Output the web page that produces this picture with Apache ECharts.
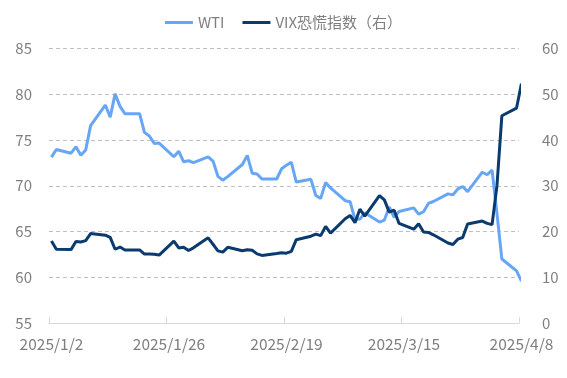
<!DOCTYPE html>
<html>
<head>
<meta charset="UTF-8">
<title>WTI vs VIX</title>
<script src="https://cdn.jsdelivr.net/npm/echarts@6/dist/echarts.min.js"></script>
<style>
html, body { margin:0; padding:0; background:#fff; }
#chart { width:567px; height:378px; }
</style>
</head>
<body>
<div id="chart"></div>
<script type="text/javascript">
	// trading days (holidays carried forward as in the source)
	var dates = [
		'2025-01-02','2025-01-03','2025-01-06','2025-01-07','2025-01-08','2025-01-09','2025-01-10',
		'2025-01-13','2025-01-14','2025-01-15','2025-01-16','2025-01-17','2025-01-20','2025-01-21',
		'2025-01-22','2025-01-23','2025-01-24','2025-01-27','2025-01-28','2025-01-29','2025-01-30',
		'2025-01-31','2025-02-03','2025-02-04','2025-02-05','2025-02-06','2025-02-07','2025-02-10',
		'2025-02-11','2025-02-12','2025-02-13','2025-02-14','2025-02-17','2025-02-18','2025-02-19',
		'2025-02-20','2025-02-21','2025-02-24','2025-02-25','2025-02-26','2025-02-27','2025-02-28',
		'2025-03-03','2025-03-04','2025-03-05','2025-03-06','2025-03-07','2025-03-10','2025-03-11',
		'2025-03-12','2025-03-13','2025-03-14','2025-03-17','2025-03-18','2025-03-19','2025-03-20',
		'2025-03-21','2025-03-24','2025-03-25','2025-03-26','2025-03-27','2025-03-28','2025-03-31',
		'2025-04-01','2025-04-02','2025-04-03','2025-04-04','2025-04-07','2025-04-08'
	];
	var wti = [
		73.13,73.96,73.56,74.25,73.32,73.92,76.57,
		78.82,77.50,80.04,78.68,77.88,77.88,75.83,
		75.44,74.62,74.66,73.17,73.77,72.62,72.73,
		72.53,73.16,72.70,71.03,70.61,71.00,72.32,
		73.32,71.37,71.29,70.74,70.74,71.85,72.25,
		72.57,70.40,70.70,68.93,68.62,70.35,69.76,
		68.37,68.26,66.31,66.36,67.04,66.03,66.25,
		67.68,66.55,67.18,67.58,66.90,67.16,68.07,
		68.28,69.11,69.00,69.65,69.92,69.36,71.48,
		71.20,71.71,66.95,61.99,60.70,59.58
	];
	var vix = [
		17.93,16.13,16.04,17.82,17.70,18.00,19.54,
		19.19,18.71,16.12,16.60,15.97,15.97,15.06,
		15.10,15.02,14.85,17.90,16.41,16.56,15.84,
		16.43,18.62,17.21,15.77,15.50,16.54,15.81,
		16.02,15.89,15.10,14.77,15.20,15.35,15.27,
		15.66,18.21,18.98,19.43,19.10,21.13,19.63,
		22.78,23.51,21.93,24.87,23.37,27.86,26.92,
		24.23,24.66,21.77,20.51,21.70,19.90,19.80,
		19.28,17.48,17.15,18.33,18.69,21.65,22.28,
		21.77,21.51,30.02,45.31,46.98,52.33
	];
	var startDate = '2025-01-02';
	var dayStep = 24;

	var DAY = 24 * 3600 * 1000;
	var t0 = Date.parse(startDate + 'T00:00:00Z');

	// points sit in the middle of their day, ticks on day boundaries
	function toPairs(vals){
		var out = [];
		for(var i=0; i<dates.length; i++){
			var d = (Date.parse(dates[i] + 'T00:00:00Z') - t0) / DAY;
			out.push([d + 0.5, vals[i]]);
		}
		return out;
	}

	function fmtDay(v){
		var dt = new Date(t0 + v * DAY);
		return dt.getUTCFullYear() + '/' + (dt.getUTCMonth() + 1) + '/' + dt.getUTCDate();
	}

	var font = '"Noto Sans CJK SC", "Noto Sans", sans-serif';
	var labelColor = '#7f7f7f';

	var myChart = echarts.init(document.getElementById('chart'), null, {renderer: 'canvas'});

	var option = {
		backgroundColor: '#fff',
		animation: false,
		textStyle: { fontFamily: font },
		legend: {
			top: 10,
			left: 'center',
			itemGap: 18,
			itemWidth: 28,
			itemHeight: 3,
			icon: 'rect',
			textStyle: { color: labelColor, fontSize: 15, fontFamily: font },
			data: ['WTI', 'VIX恐慌指数（右）']
		},
		grid: { left: 49, right: 48, top: 48.5, bottom: 55 },
		xAxis: {
			type: 'value',
			min: 0,
			max: 96,
			interval: dayStep,
			axisLine: { lineStyle: { color: '#d9d9d9' } },
			axisTick: { show: true, inside: true, length: 6, lineStyle: { color: '#d9d9d9' } },
			splitLine: { show: false },
			axisLabel: {
				color: labelColor,
				fontSize: 15.5,
				margin: 13,
				padding: [0, 0, 0, 5],
				formatter: fmtDay
			}
		},
		yAxis: [
			{
				type: 'value',
				min: 55,
				max: 85,
				interval: 5,
				axisLine: { show: false },
				axisTick: { show: false },
				axisLabel: { color: labelColor, fontSize: 15, margin: 17 },
				splitLine: { lineStyle: { color: '#c0c0c0', type: [4, 3] } }
			},
			{
				type: 'value',
				min: 0,
				max: 60,
				interval: 10,
				axisLine: { show: false },
				axisTick: { show: false },
				axisLabel: { color: labelColor, fontSize: 15, margin: 23 },
				splitLine: { show: false }
			}
		],
		series: [
			{
				name: 'WTI',
				type: 'line',
				yAxisIndex: 0,
				data: toPairs(wti),
				showSymbol: false,
				clip: false,
				color: '#66a6f5',
				lineStyle: { width: 3, color: '#66a6f5' }
			},
			{
				name: 'VIX恐慌指数（右）',
				type: 'line',
				yAxisIndex: 1,
				data: toPairs(vix),
				showSymbol: false,
				clip: false,
				color: '#0a3a6e',
				lineStyle: { width: 3, color: '#0a3a6e' }
			}
		]
	};

	myChart.setOption(option);
</script>
</body>
</html>
